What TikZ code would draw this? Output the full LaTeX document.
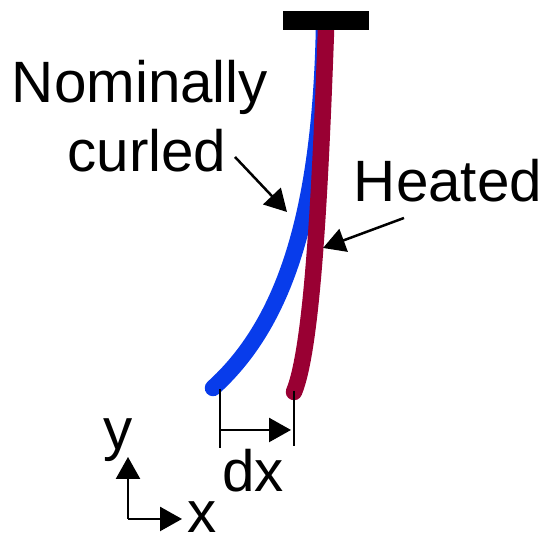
\documentclass[tikz,border=0pt]{standalone}
\usepackage{fontspec}
\setmainfont{Liberation Sans}
\usetikzlibrary{arrows.meta}
\definecolor{beamblue}{RGB}{8,60,235}
\definecolor{beamred}{RGB}{153,0,51}
\tikzset{
  lab/.style  ={font=\fontsize{16.6}{20}\selectfont, inner sep=0pt, anchor=base},
  beam/.style ={line width=0.165cm, line cap=round},
  e/.style    ={-{Triangle[length=0.22cm, width=0.24cm]}, draw=black, line width=0.025cm},
  tick/.style ={draw=black, line width=0.02cm},
  mount/.style={rectangle, fill=black, minimum width=0.86cm, minimum height=0.19cm, inner sep=0pt},
}
\begin{document}
\begin{tikzpicture}
\useasboundingbox (0,0) rectangle (5.45,5.38);
%% ---------- beams ----------
\node[mount] (top) at (3.26, 5.175) {};
\coordinate (blueT) at (3.24, 5.08);
\coordinate (blueB) at (2.13, 1.50);
\coordinate (redT)  at (3.26, 5.08);
\coordinate (redB)  at (2.94, 1.46);
\draw[beam, beamblue] (blueB) .. controls (2.85, 2.15) and (3.20, 3.25) .. (blueT);
\draw[beam, beamred]  (redB) .. controls (3.12, 1.90) and (3.20, 3.40) .. (redT);
\node[mount] at (top) {};
%% ---------- labels ----------
\node[lab] (nom) at (1.40, 4.35) {Nominally};
\node[lab] (cur) at (1.47, 3.66) {curled};
\node[lab] (hot) at (4.48, 3.36) {Heated};
\node[lab] (dx)  at (2.53, 0.46) {dx};
\node[lab] (y)   at (1.18, 0.88) {y};
\node[lab] (x)   at (2.02, 0.05) {x};
%% ---------- leader arrows ----------
\coordinate (nomS) at (2.35, 3.81);
\coordinate (nomE) at (2.87, 3.26);
\coordinate (hotS) at (4.04, 3.20);
\coordinate (hotE) at (3.23, 2.90);
\draw[e] (nomS) -- (nomE);
\draw[e] (hotS) -- (hotE);
%% ---------- displacement ----------
\coordinate (tickAT) at (2.20, 1.49);
\coordinate (tickAB) at (2.20, 0.90);
\coordinate (tickBT) at (2.94, 1.47);
\coordinate (tickBB) at (2.94, 0.92);
\coordinate (dxS) at (2.21, 1.08);
\coordinate (dxE) at (2.91, 1.08);
\draw[tick] (tickAT) -- (tickAB);
\draw[tick] (tickBT) -- (tickBB);
\draw[e] (dxS) -- (dxE);
%% ---------- axes ----------
\coordinate (org) at (1.28, 0.19);
\coordinate (xE)  at (1.82, 0.19);
\coordinate (yE)  at (1.28, 0.81);
\draw[e] (org) -- (xE);
\draw[e] (org) -- (yE);
\end{tikzpicture}
\end{document}
